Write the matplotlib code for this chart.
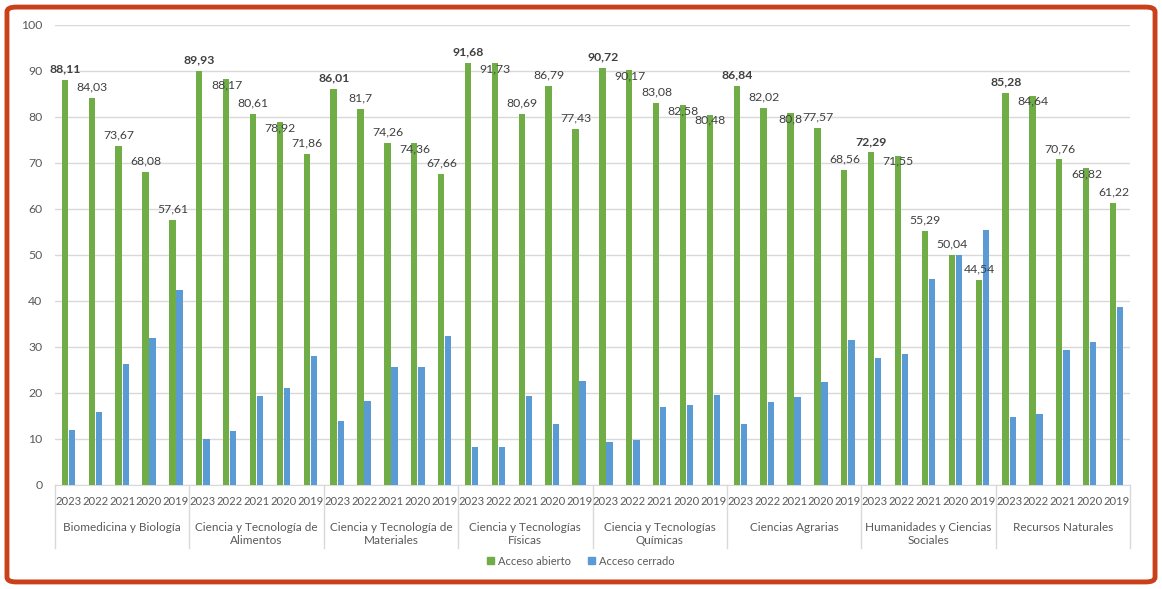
import matplotlib.pyplot as plt
from matplotlib.patches import FancyBboxPatch, Patch
from matplotlib.transforms import blended_transform_factory

plt.rcParams['font.family'] = ['Lato', 'DejaVu Sans']

GROUPS = ['Biomedicina y Biología', 'Ciencia y Tecnología de\nAlimentos',
          'Ciencia y Tecnología de\nMateriales', 'Ciencia y Tecnologías\nFísicas',
          'Ciencia y Tecnologías\nQuímicas', 'Ciencias Agrarias',
          'Humanidades y Ciencias\nSociales', 'Recursos Naturales']
YEARS = ['2023', '2022', '2021', '2020', '2019']

# Acceso abierto, per group, years 2023..2019
OPEN = [
    [88.11, 84.03, 73.67, 68.08, 57.61],
    [89.93, 88.17, 80.61, 78.92, 71.86],
    [86.01, 81.70, 74.26, 74.36, 67.66],
    [91.68, 91.73, 80.69, 86.79, 77.43],
    [90.72, 90.17, 83.08, 82.58, 80.48],
    [86.84, 82.02, 80.80, 77.57, 68.56],
    [72.29, 71.55, 55.29, 50.04, 44.54],
    [85.28, 84.64, 70.76, 68.82, 61.22],
]
OPEN_LABELS = [
    ['88,11', '84,03', '73,67', '68,08', '57,61'],
    ['89,93', '88,17', '80,61', '78,92', '71,86'],
    ['86,01', '81,7', '74,26', '74,36', '67,66'],
    ['91,68', '91,73', '80,69', '86,79', '77,43'],
    ['90,72', '90,17', '83,08', '82,58', '80,48'],
    ['86,84', '82,02', '80,8', '77,57', '68,56'],
    ['72,29', '71,55', '55,29', '50,04', '44,54'],
    ['85,28', '84,64', '70,76', '68,82', '61,22'],
]
# Acceso cerrado
CLOSED = [
    [11.89, 15.97, 26.33, 31.92, 42.39],
    [10.07, 11.83, 19.39, 21.08, 28.14],
    [13.99, 18.30, 25.74, 25.64, 32.34],
    [8.32, 8.27, 19.31, 13.21, 22.57],
    [9.28, 9.83, 16.92, 17.42, 19.52],
    [13.16, 17.98, 19.20, 22.43, 31.44],
    [27.71, 28.45, 44.71, 49.96, 55.46],
    [14.72, 15.36, 29.24, 31.18, 38.78],
]

GREEN = '#70AD47'
BLUE = '#5B9BD5'
TXT = '#595959'


def main():
    fig = plt.figure(figsize=(11.62, 5.89), dpi=100)
    ax = fig.add_axes([0.0473, 0.1766, 0.9252, 0.781])

    n_years = len(YEARS)
    w = 0.235
    for g, grp in enumerate(GROUPS):
        for i in range(n_years):
            x = g * n_years + i
            val = OPEN[g][i]
            ax.bar(x - w / 2 - 0.015, val, width=w, color=GREEN, zorder=3)
            ax.bar(x + w / 2 + 0.015, CLOSED[g][i], width=w, color=BLUE, zorder=3)
            # like Excel, a label that would collide with its left neighbour
            # sits lower, over the top of its bar
            crowded = i > 0 and abs(val - OPEN[g][i - 1]) < 2.5
            ax.annotate(OPEN_LABELS[g][i], (x - w / 2, val),
                        xytext=(0, -4) if crowded else (0, 4),
                        textcoords='offset points', ha='center',
                        va='center' if crowded else 'bottom',
                        fontsize=8.8, color='#404040',
                        fontweight='bold' if i == 0 else 'normal', zorder=4)

    total = len(GROUPS) * n_years
    ax.set_xlim(-0.5, total - 0.5)
    ax.set_ylim(0, 100)
    ax.set_yticks(range(0, 101, 10))
    ax.tick_params(axis='y', length=0, pad=9, labelsize=8.8, labelcolor=TXT)
    ax.set_xticks([])
    ax.grid(axis='y', color='#D9D9D9', linewidth=1, zorder=0)
    for s in ['top', 'right', 'left']:
        ax.spines[s].set_visible(False)
    ax.spines['bottom'].set_color('#D9D9D9')

    # two-level category axis
    tr = blended_transform_factory(ax.transData, ax.transAxes)
    for g, grp in enumerate(GROUPS):
        for i, yr in enumerate(YEARS):
            ax.text(g * n_years + i, -0.036, yr, transform=tr, ha='center',
                    va='center', fontsize=8.1, color=TXT)
        ax.text(g * n_years + 2, -0.08, grp, transform=tr, ha='center',
                va='top', fontsize=8.5, color=TXT, linespacing=1.3)
    for g in range(len(GROUPS) + 1):
        ax.plot([g * n_years - 0.5] * 2, [0, -0.137], transform=tr,
                color='#D9D9D9', linewidth=1, clip_on=False)

    handles = [Patch(color=GREEN), Patch(color=BLUE)]
    fig.legend(handles, ['Acceso abierto', 'Acceso cerrado'], ncol=2,
               loc='center', bbox_to_anchor=(0.5, 0.047), frameon=False,
               fontsize=8, handlelength=0.6, handleheight=0.6,
               handletextpad=0.4, columnspacing=1.5, labelcolor=TXT)

    border = FancyBboxPatch((0.006, 0.012), 0.988, 0.976,
                            boxstyle='round,pad=0,rounding_size=0.008',
                            transform=fig.transFigure, fill=False,
                            edgecolor='#C9401A', linewidth=3.5)
    fig.patches.append(border)

    fig.savefig('out.png', dpi=100)


if __name__ == '__main__':
    main()
